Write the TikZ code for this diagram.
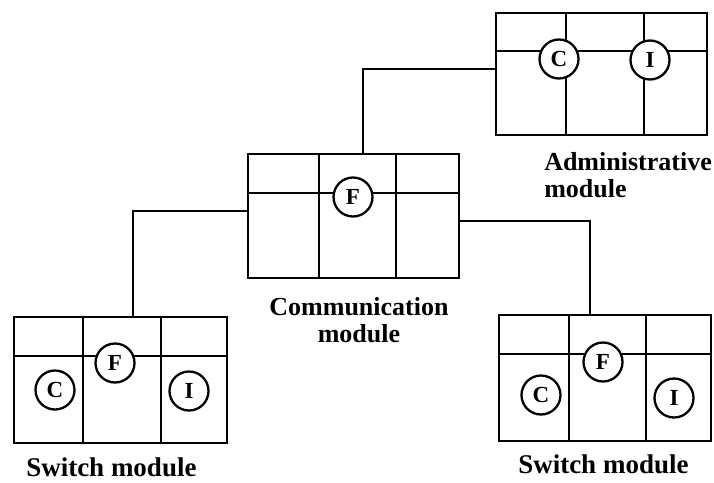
\documentclass[tikz,border=0pt]{standalone}
\usepackage{fontspec}
\setmainfont{Liberation Serif}
\begin{document}
\begin{tikzpicture}[x=1pt,y=-1pt,line width=2.5pt,
  modbox/.style={draw,rectangle,inner sep=0pt,outer sep=0pt,line width=2.5pt},
  port/.style={circle,draw,fill=white,minimum size=39pt,inner sep=0pt,line width=2.3pt,
     font=\fontsize{23}{23}\selectfont\bfseries},
  lbl/.style={inner sep=0pt,font=\fontsize{26}{27}\selectfont\bfseries},
  swlbl/.style={inner sep=0pt,font=\fontsize{27}{27}\selectfont\bfseries}]
\useasboundingbox (0,0) rectangle (714,482);
% modules
\node[modbox,minimum width=211pt,minimum height=122pt] (adm) at (601.5,74) {};
\node[modbox,minimum width=211pt,minimum height=124pt] (comm) at (353.5,216) {};
\node[modbox,minimum width=213pt,minimum height=126pt] (swl) at (120.5,380) {};
\node[modbox,minimum width=212pt,minimum height=126pt] (swr) at (605,378) {};
% inner dividers
\draw (496,51) -- (707,51) (566,13) -- (566,135) (644,13) -- (644,135);
\draw (248,193) -- (459,193) (319,154) -- (319,278) (396,154) -- (396,278);
\draw (14,356) -- (227,356) (83,317) -- (83,443) (161,317) -- (161,443);
\draw (499,354) -- (711,354) (569,315) -- (569,441) (646,315) -- (646,441);
% ports
\node[port] (admC) at (559,59) {C};
\node[port] (admI) at (650,60) {I};
\node[port] (commF) at (353,197) {F};
\node[port] (swlF) at (115,363) {F};
\node[port] (swlC) at (55,390) {C};
\node[port] (swlI) at (189,391) {I};
\node[port] (swrF) at (603,362) {F};
\node[port] (swrC) at (541,395) {C};
\node[port] (swrI) at (674,398) {I};
% connectors
\coordinate (j1) at (363,69);
\coordinate (j2) at (133,211);
\coordinate (j3) at (590,221);
\draw (adm.west |- j1) -- (j1) -- (j1 |- comm.north);
\draw (comm.west |- j2) -- (j2) -- (j2 |- swl.north);
\draw (comm.east |- j3) -- (j3) -- (j3 |- swr.north);
% labels
\node[lbl,align=left,anchor=north west] (admlbl) at (543,151) {Administrative\\module};
\node[lbl,align=center,anchor=north] (commlbl) at (359,296.5) {Communication\\module};
\node[swlbl,anchor=base west] (swllbl) at (25,476) {Switch module};
\node[swlbl,anchor=base west] (swrlbl) at (517,473) {Switch module};
\end{tikzpicture}
\end{document}
